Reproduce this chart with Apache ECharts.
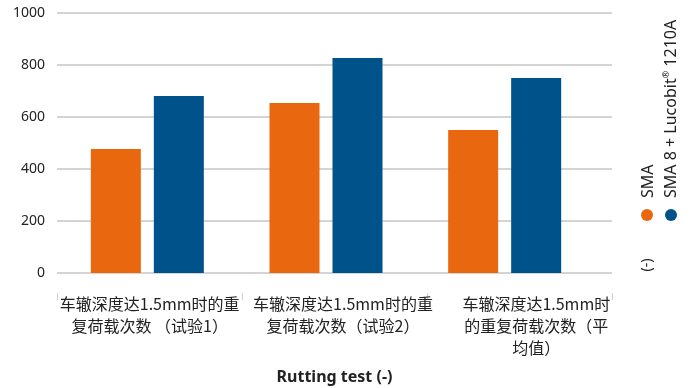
<!DOCTYPE html>
<html>
<head>
<meta charset="utf-8">
<script src="https://cdn.jsdelivr.net/npm/echarts@6/dist/echarts.min.js"></script>
<style>html,body{margin:0;padding:0;background:#fff}#c{width:691px;height:388px}</style>
</head>
<body>
<div id="c"></div>
<script>
const categories = [
  '车辙深度达1.5mm时的重\n复荷载次数 （试验1）',
  '车辙深度达1.5mm时的重\n复荷载次数（试验2）',
  '车辙深度达1.5mm时\n的重复荷载次数（平\n均值）'
];
const seriesNames = ['SMA', 'SMA 8 + Lucobit® 1210A'];
const smaValues = [477, 654, 550];
const lucobitValues = [681, 827, 750];
const yTicks = [0, 200, 400, 600, 800, 1000];
const xTitle = 'Rutting test (-)';
const yUnit = '(-)';

const ORANGE = '#E9670E', BLUE = '#00528B';
const FONT = '"Noto Sans", "Noto Sans CJK SC", sans-serif';
const CJK = '"Noto Sans CJK SC", "Noto Sans", sans-serif';
const chart = echarts.init(document.getElementById('c'), null, {renderer: 'canvas'});
const yMin = yTicks[0], yMax = yTicks[yTicks.length - 1], yInt = yTicks[1] - yTicks[0];
const hiddenY = (g) => ({type: 'value', gridIndex: g, min: yMin, max: yMax, interval: yInt, show: false});
const G = {containLabel: false, outerBoundsMode: 'none'};
chart.setOption({
  animation: false,
  grid: [
    Object.assign({left: 57, right: 79, top: 13, bottom: 115}, G),   // main: y axis, grid lines, title
    Object.assign({left: 58, width: 536, top: 13, bottom: 115}, G),  // bars
    Object.assign({left: 53, width: 580, top: 13, bottom: 115}, G),  // category labels
    Object.assign({left: 57, right: 79, top: 13, bottom: 95}, G)     // detached ticks
  ],
  xAxis: [
    {type: 'category', gridIndex: 0, data: categories,
     axisLine: {show: false}, axisTick: {show: false}, axisLabel: {show: false},
     name: xTitle, nameLocation: 'middle', nameGap: 96,
     nameTextStyle: {color: '#222', fontSize: 16, fontWeight: 'bold', fontFamily: FONT}},
    {type: 'category', gridIndex: 1, data: categories, show: false},
    {type: 'category', gridIndex: 2, data: categories,
     axisLine: {show: false}, axisTick: {show: false},
     axisLabel: {show: true, interval: 0, margin: 20, color: '#222', fontSize: 16, lineHeight: 22, fontFamily: CJK}},
    {type: 'category', gridIndex: 3, data: categories,
     axisLine: {show: false}, axisLabel: {show: false},
     axisTick: {show: true, length: 7, lineStyle: {color: '#cfcfcf', width: 1}}}
  ],
  yAxis: [
    {type: 'value', gridIndex: 0, min: yMin, max: yMax, interval: yInt,
     axisLine: {show: false}, axisTick: {show: false},
     axisLabel: {color: '#222', fontSize: 14, margin: 12, fontFamily: FONT, formatter: (v) => String(v)},
     splitLine: {show: true, lineStyle: {color: '#c6c6c6', width: 1.5}}},
    hiddenY(1), hiddenY(2), hiddenY(3)
  ],
  series: [
    {name: seriesNames[0], type: 'bar', xAxisIndex: 1, yAxisIndex: 1, data: smaValues,
     barWidth: 50, barGap: '26%', itemStyle: {color: ORANGE}},
    {name: seriesNames[1], type: 'bar', xAxisIndex: 1, yAxisIndex: 1, data: lucobitValues,
     barWidth: 50, barGap: '26%', itemStyle: {color: BLUE}}
  ],
  graphic: [
    {type: 'circle', shape: {cx: 647, cy: 215, r: 6}, style: {fill: ORANGE}},
    {type: 'circle', shape: {cx: 671, cy: 215, r: 6}, style: {fill: BLUE}},
    {type: 'text', x: 648, y: 198, rotation: Math.PI / 2,
     style: {text: seriesNames[0], fill: '#222', font: '16px ' + FONT, textAlign: 'left', textVerticalAlign: 'middle'}},
    {type: 'text', x: 671, y: 198, rotation: Math.PI / 2,
     style: {text: '{a|SMA 8 + Lucobit}{s|®}{a| 1210A}', textAlign: 'left', textVerticalAlign: 'middle',
       rich: {a: {fill: '#222', fontSize: 16, fontFamily: FONT, lineHeight: 18},
              s: {fill: '#222', fontSize: 9, fontFamily: FONT, verticalAlign: 'top', lineHeight: 18}}}},
    {type: 'text', x: 647, y: 265, rotation: Math.PI / 2,
     style: {text: yUnit, fill: '#222', font: '14px ' + FONT, textAlign: 'center', textVerticalAlign: 'middle'}}
  ]
});
</script>
</body>
</html>
